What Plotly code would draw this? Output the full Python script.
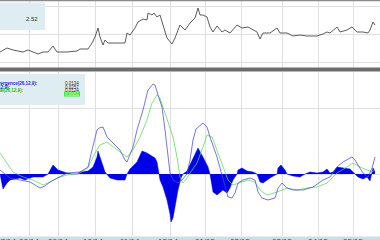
import plotly.graph_objects as go

# ---- data ----
price_x = [0,7,13,23,28,33,38,43,48,53,57,67,77,80,88,92,95,98,100,103,105,108,125,127,130,135,138,143,147,148,152,154,157,160,163,167,172,175,180,185,190,195,198,200,203,207,210,213,217,222,225,230,237,242,248,253,257,260,263,270,277,280,287,293,300,307,317,323,327,330,337,340,347,352,357,363,368,370,373,375]
price_y = [2.432,2.448,2.44,2.432,2.44,2.432,2.424,2.432,2.432,2.456,2.432,2.432,2.436,2.444,2.444,2.468,2.492,2.528,2.492,2.46,2.48,2.468,2.468,2.508,2.50,2.528,2.552,2.564,2.56,2.588,2.58,2.588,2.572,2.58,2.54,2.488,2.464,2.488,2.54,2.52,2.548,2.568,2.608,2.58,2.58,2.572,2.532,2.512,2.536,2.512,2.52,2.508,2.54,2.528,2.532,2.52,2.512,2.484,2.508,2.508,2.528,2.508,2.508,2.496,2.50,2.496,2.496,2.504,2.512,2.508,2.532,2.512,2.52,2.532,2.512,2.512,2.508,2.52,2.552,2.54]

hist_x = [0,1,3,7,10,20,25,33,43,48,51,53,58,63,67,72,77,80,88,93,97,98,100,103,105,107,110,117,125,127,130,137,142,147,150,155,157,159,160,163,167,170,171,173,175,178,181,183,187,190,195,198,203,208,210,213,217,220,223,227,230,233,237,238,242,247,253,257,260,263,270,277,278,281,285,287,293,300,305,310,317,323,327,330,333,337,343,350,355,358,363,367,370,372,373,375]
hist_y = [0,-0.006,-0.015,-0.009,-0.006,-0.004,-0.006,-0.003,-0.003,0,0.006,0.009,0.004,0.002,0.001,0,0,0.002,0.003,0.007,0.017,0.023,0.016,0.008,0.002,0,-0.004,-0.006,-0.006,0,0.005,0.012,0.023,0.021,0.019,0.016,0.012,0,-0.006,-0.013,-0.026,-0.040,-0.048,-0.044,-0.033,-0.016,-0.004,0,0.003,0.009,0.019,0.026,0.017,0.007,0,-0.018,-0.021,-0.018,-0.016,-0.019,-0.014,-0.006,0,0.004,0.006,0.003,0.002,0,-0.008,-0.009,-0.004,0,0.006,0.009,0.004,0,-0.002,-0.003,0,0.002,0.001,0.002,0.005,0.001,0.002,0.007,0.006,0.005,0,-0.003,-0.005,-0.003,-0.007,0,0.006,0.002]

macd_x = [0,10,20,30,40,45,50,57,67,80,88,92,95,97,99,103,107,113,120,125,127,133,137,143,148,153,155,158,162,165,167,170,173,178,182,187,190,193,196,200,203,207,210,217,223,228,232,235,238,243,250,255,258,262,268,275,278,282,287,293,303,313,323,330,337,343,352,355,358,363,368,372,375]
macd_y = [0.004,-0.004,-0.006,-0.008,-0.014,-0.012,-0.008,-0.004,0.001,0.002,0.007,0.024,0.037,0.044,0.046,0.047,0.037,0.031,0.024,0.014,0.012,0.027,0.044,0.064,0.084,0.090,0.089,0.079,0.067,0.044,0.027,0.001,-0.006,-0.009,-0.006,0,0.014,0.034,0.045,0.049,0.051,0.047,0.037,0.017,-0.006,-0.023,-0.024,-0.019,-0.009,-0.006,-0.004,-0.006,-0.018,-0.024,-0.026,-0.024,-0.014,-0.009,-0.014,-0.016,-0.016,-0.013,-0.006,-0.003,0.007,0.012,0.017,0.014,0.009,0.001,-0.003,0.006,0.017]

signal_x = [0,7,13,23,33,43,50,57,67,80,88,95,100,107,113,120,127,133,140,143,147,152,157,160,163,167,170,173,177,180,183,187,190,197,203,207,212,217,223,228,233,240,248,255,260,267,277,287,297,307,317,327,337,347,353,360,367,372,375]
signal_y = [0.021,0.011,0.002,-0.003,-0.006,-0.011,-0.008,-0.004,-0.001,0.001,0.006,0.021,0.029,0.032,0.027,0.022,0.017,0.024,0.037,0.044,0.054,0.071,0.079,0.076,0.067,0.054,0.044,0.037,0.017,-0.003,-0.009,-0.004,0.001,0.011,0.027,0.039,0.037,0.024,0.007,-0.006,-0.011,-0.009,-0.006,-0.008,-0.016,-0.021,-0.018,-0.014,-0.016,-0.014,-0.013,-0.009,0.001,0.007,0.011,0.007,0.004,0.002,0.004]

grid_x = [29, 58, 95, 132, 170, 205, 241, 282, 318, 353]
date_pos = [7, 29, 58, 93, 130, 168, 205, 240, 282, 318, 353]
date_labels = ["07/14", "08/14", "09/14", "10/14", "11/14", "12/14", "01/15", "02/15", "03/15", "04/15", "05/15"]
price_grid = [2.392, 2.504, 2.616]
macd_grid = [0, 0.066]

legend_names = ["Moving Average Convergence/Divergence(26,12,9):", "MACD(26,12,9):", "Signal(26,12,9):"]
legend_values = ["0.0134", "0.0257", "0.0124", "0.0061"]
last_price_label = "2.52"

W, H = 380, 240
def py(p):  # pixel y -> paper
    return 1 - p / H
def px(p):
    return p / W

fig = go.Figure()
fig.add_trace(go.Scatter(x=price_x, y=price_y, mode="lines", line=dict(color="#4a4a4a", width=0.9),
                         xaxis="x2", yaxis="y2", hoverinfo="skip"))
fig.add_trace(go.Scatter(x=hist_x, y=hist_y, mode="lines", fill="tozeroy", fillcolor="#0000e6",
                         line=dict(color="#0000e6", width=0.5), hoverinfo="skip"))
fig.add_trace(go.Scatter(x=signal_x, y=signal_y, mode="lines", line=dict(color="#5ad85a", width=0.75),
                         hoverinfo="skip"))
fig.add_trace(go.Scatter(x=macd_x, y=macd_y, mode="lines", line=dict(color="#4848d0", width=0.75),
                         hoverinfo="skip"))

axcommon = dict(showgrid=True, gridcolor="#e0e0e0", gridwidth=1, zeroline=False, showline=False,
                ticks="", showticklabels=False)
fig.update_layout(
    width=W, height=H, margin=dict(l=0, r=0, t=0, b=0),
    paper_bgcolor="white", plot_bgcolor="white", showlegend=False,
    xaxis=dict(domain=[0, 1], range=[0, 380], anchor="y", tickvals=grid_x, **axcommon),
    xaxis2=dict(domain=[0, 1], range=[0, 380], anchor="y2", matches="x", tickvals=grid_x, **axcommon),
    yaxis=dict(domain=[4 / H, py(72)], range=[-0.062, 0.102], tickvals=macd_grid, **axcommon),
    yaxis2=dict(domain=[py(67), 1], range=[2.372, 2.64], tickvals=price_grid, **axcommon),
)

shapes = [
    dict(type="rect", xref="paper", yref="paper", x0=0, x1=1, y0=py(71.5), y1=py(67.5),
         fillcolor="#6c6c6c", line=dict(width=0), layer="above"),
    dict(type="rect", xref="paper", yref="paper", x0=0, x1=1, y0=py(1.2), y1=1,
         fillcolor="#8a8a8a", line=dict(width=0), layer="above"),
    dict(type="rect", xref="paper", yref="paper", x0=0, x1=1, y0=0, y1=3.5 / H,
         fillcolor="#c9dfe7", line=dict(width=0), layer="below"),
    dict(type="rect", xref="paper", yref="paper", x0=0, x1=px(45), y0=py(30), y1=py(2.5),
         fillcolor="#ddedf1", line=dict(width=0), layer="above"),
    dict(type="rect", xref="paper", yref="paper", x0=0, x1=px(85), y0=py(105), y1=py(74),
         fillcolor="#ddedf1", line=dict(width=0), layer="above"),
    dict(type="rect", xref="paper", yref="paper", x0=px(64), x1=px(80), y0=py(96.5), y1=py(91.5),
         fillcolor="#3ee83e", line=dict(width=0), layer="above"),
]
fig.update_layout(shapes=shapes)

ann = []
ann.append(dict(text=last_price_label, xref="paper", yref="paper", x=px(39.5), y=py(19), xanchor="right",
                yanchor="middle", showarrow=False, font=dict(size=6, color="#333333", family="Arial")))
name_pos = [(39, 83.3, "#2828d0"), (12, 87, "#2828d0"), (25, 90.7, "#22bb22")]
for name, (xr, yr, col) in zip(legend_names, name_pos):
    ann.append(dict(text="<b>" + name + "</b>", xref="paper", yref="paper", x=px(xr), y=py(yr),
                    xanchor="right", yanchor="middle", showarrow=False, borderpad=0,
                    font=dict(size=4.5, color=col, family="Arial")))
val_y = [83.3, 87, 90.7, 94.4]
val_col = ["#333333", "#333333", "#333333", "#eaffb0"]
for v, yv, c in zip(legend_values, val_y, val_col):
    ann.append(dict(text=v, xref="paper", yref="paper", x=px(80), y=py(yv), xanchor="right",
                    yanchor="middle", showarrow=False, borderpad=0,
                    font=dict(size=4.5, color=c, family="Arial")))
for d, xp in zip(date_labels, date_pos):
    ann.append(dict(text=d, xref="paper", yref="paper", x=px(xp), y=3.6 / H, xanchor="center",
                    yanchor="top", showarrow=False, borderpad=0,
                    font=dict(size=8, color="#334455", family="Arial")))
fig.update_layout(annotations=ann)

fig.write_html("out.html")
